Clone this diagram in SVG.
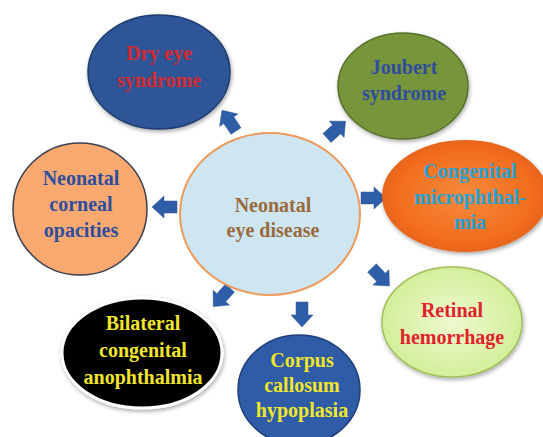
<svg xmlns="http://www.w3.org/2000/svg" width="543" height="437" viewBox="0 0 543 437">
<defs>
<style>
text{font-family:"Liberation Serif","DejaVu Serif",serif;font-weight:bold;font-size:20px;text-anchor:middle}
.arrow{fill:#2f5ea8;stroke:#2a5290;stroke-width:0.5}
</style>
<path id="arr" d="M0,-6 L13,-6 L13,-11 L25,0 L13,11 L13,6 L0,6 Z"/>
<radialGradient id="gOr" cx="0.5" cy="0.5" r="0.6">
<stop offset="0" stop-color="#f68a3c"/>
<stop offset="0.7" stop-color="#f26c1e"/>
<stop offset="1" stop-color="#d85a14"/>
</radialGradient>
<radialGradient id="gGr" cx="0.5" cy="0.5" r="0.6">
<stop offset="0" stop-color="#eefad0"/>
<stop offset="1" stop-color="#cfec90"/>
</radialGradient>
<filter id="sh" x="-20%" y="-20%" width="140%" height="140%">
<feGaussianBlur in="SourceAlpha" stdDeviation="2"/>
<feOffset dx="1" dy="2"/>
<feComponentTransfer><feFuncA type="linear" slope="0.35"/></feComponentTransfer>
<feMerge><feMergeNode/><feMergeNode in="SourceGraphic"/></feMerge>
</filter>
</defs>
<rect width="543" height="437" fill="#ffffff"/>
<g id="connectors">
<use href="#arr" class="arrow" transform="translate(236,131) rotate(-124)"/>
<use href="#arr" class="arrow" transform="translate(327,138) rotate(-42)"/>
<use href="#arr" class="arrow" transform="translate(177,207) rotate(180)"/>
<use href="#arr" class="arrow" transform="translate(361,198)"/>
<use href="#arr" class="arrow" transform="translate(372,268) rotate(46)"/>
<use href="#arr" class="arrow" transform="translate(230,288) rotate(132)"/>
<use href="#arr" class="arrow" transform="translate(302,302) rotate(90)"/>
</g>
<g id="center">
<ellipse cx="270" cy="214" rx="90" ry="81" fill="#cde6f1" stroke="#ee9a5c" stroke-width="2"/>
<text x="273" y="212" font-size="21" fill="#9a6a3c">Neonatal</text>
<text x="273" y="237" font-size="21" fill="#9a6a3c">eye disease</text>
</g>
<g id="dry-eye">
<ellipse cx="159" cy="72" rx="71" ry="57" fill="#2f5597" stroke="#1f3d6e" stroke-width="1.5" filter="url(#sh)"/>
<text x="159" y="60" fill="#d42a2f">Dry eye</text>
<text x="159" y="87" fill="#d42a2f">syndrome</text>
</g>
<g id="joubert">
<ellipse cx="403" cy="86" rx="65" ry="53" fill="#77953b" stroke="#55702a" stroke-width="1.5" filter="url(#sh)"/>
<text x="404" y="74" fill="#2f4d9e">Joubert</text>
<text x="404" y="100" fill="#2f4d9e">syndrome</text>
</g>
<g id="corneal">
<ellipse cx="80" cy="209" rx="67" ry="66" fill="#f8a96f" stroke="#3c3c50" stroke-width="1.5"/>
<text x="81" y="185" fill="#2f4d9e">Neonatal</text>
<text x="81" y="211" fill="#2f4d9e">corneal</text>
<text x="81" y="237" fill="#2f4d9e">opacities</text>
</g>
<g id="microphthalmia">
<ellipse cx="465" cy="196" rx="83" ry="56" fill="url(#gOr)" filter="url(#sh)"/>
<text x="470" y="178" fill="#1ea2d8">Congenital</text>
<text x="470" y="204" fill="#1ea2d8">microphthal-</text>
<text x="470" y="229" fill="#1ea2d8">mia</text>
</g>
<g id="retinal">
<ellipse cx="452" cy="322" rx="70" ry="55" fill="url(#gGr)" stroke="#9fc05a" stroke-width="1.5" filter="url(#sh)"/>
<text x="452" y="317" fill="#e0222c">Retinal</text>
<text x="452" y="344" fill="#e0222c">hemorrhage</text>
</g>
<g id="bilateral">
<ellipse cx="142" cy="353" rx="80" ry="55" fill="#000000" stroke="#ffffff" stroke-width="3" filter="url(#sh)"/>
<text x="143" y="330" fill="#f3e62a">Bilateral</text>
<text x="143" y="357" fill="#f3e62a">congenital</text>
<text x="143" y="384" fill="#f3e62a">anophthalmia</text>
</g>
<g id="corpus">
<ellipse cx="299" cy="390" rx="61" ry="55" fill="#2e5ca6" stroke="#1f3f7a" stroke-width="1.5"/>
<text x="302" y="367" fill="#f3e62a">Corpus</text>
<text x="302" y="392" fill="#f3e62a">callosum</text>
<text x="302" y="417" fill="#f3e62a">hypoplasia</text>
</g>
</svg>
